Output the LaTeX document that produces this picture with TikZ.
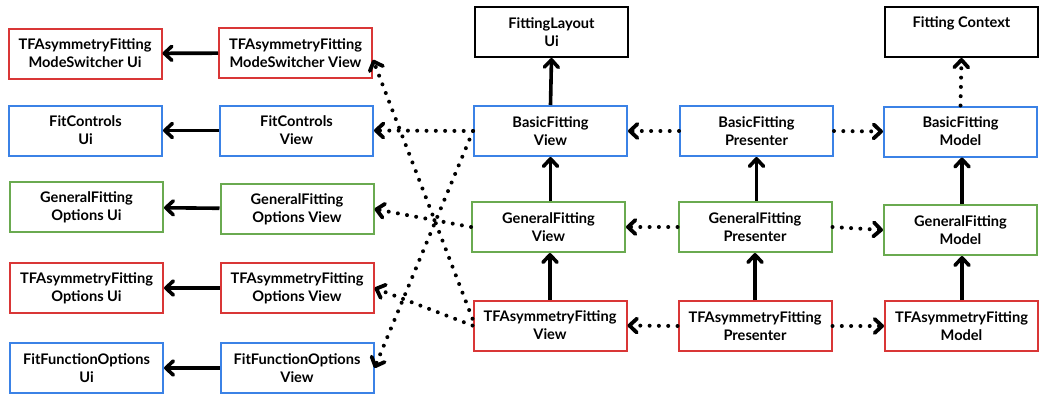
\documentclass[tikz,border=0pt]{standalone}
\usepackage{fontspec}
\setmainfont{Lato}
\usetikzlibrary{arrows.meta,calc}
\definecolor{cred}{HTML}{D93636}
\definecolor{cblue}{HTML}{3B82E6}
\definecolor{cgreen}{HTML}{6AAA50}
\tikzset{
  box/.style={draw, line width=2pt, minimum width=153pt, minimum height=50pt,
    inner sep=0pt, align=center, font=\bfseries\fontsize{14.6}{18}\selectfont, fill=white},
  redbox/.style={box, draw=cred},
  bluebox/.style={box, draw=cblue},
  greenbox/.style={box, draw=cgreen},
  blackbox/.style={box, draw=black},
  solidarrow/.style={line width=3.6pt, -{Straight Barb[length=7.5pt,width=14pt,round]}},
  dotarrow/.style={line width=4pt, line cap=round, dash pattern=on 0pt off 9.3pt,
    -{Straight Barb[length=7.5pt,width=14pt,round,line width=3.8pt]}},
}
\begin{document}
\begin{tikzpicture}[x=1pt,y=-1pt]
\useasboundingbox[fill=white] (0,0) rectangle (1049,402);
% column 1
\node[redbox]   (MSU)  at (85,53.5)  {TFAsymmetryFitting\\ModeSwitcher Ui};
\node[bluebox]  (FCU)  at (85.5,130.5) {FitControls\\Ui};
\node[greenbox] (GOU)  at (86.5,207) {GeneralFitting\\Options Ui};
\node[redbox]   (TOU)  at (86.5,288) {TFAsymmetryFitting\\Options Ui};
\node[bluebox]  (FFU)  at (86.5,368) {FitFunctionOptions\\Ui};
% column 2
\node[redbox]   (MSV)  at (295.5,53)  {TFAsymmetryFitting\\ModeSwitcher View};
\node[bluebox]  (FCV)  at (296.5,130.5) {FitControls\\View};
\node[greenbox] (GOV)  at (297,209) {GeneralFitting\\Options View};
\node[redbox]   (TOV)  at (297,288) {TFAsymmetryFitting\\Options View};
\node[bluebox]  (FFV)  at (297,368) {FitFunctionOptions\\View};
% column 3
\node[blackbox] (FLU)  at (551.5,32) {FittingLayout\\Ui};
\node[bluebox]  (BFV)  at (550.5,131) {BasicFitting\\View};
\node[greenbox] (GFV)  at (548.5,227) {GeneralFitting\\View};
\node[redbox]   (TFV)  at (550,325.5) {TFAsymmetryFitting\\View};
% column 4
\node[bluebox]  (BFP)  at (756.5,131) {BasicFitting\\Presenter};
\node[greenbox] (GFP)  at (755,227) {GeneralFitting\\Presenter};
\node[redbox]   (TFP)  at (755,326) {TFAsymmetryFitting\\Presenter};
% column 5
\node[blackbox] (FC)   at (961.5,32) {Fitting Context\\\phantom{Xg}};
\node[bluebox]  (BFM)  at (960.5,131.5) {BasicFitting\\Model};
\node[greenbox] (GFM)  at (960.5,230) {GeneralFitting\\Model};
\node[redbox]   (TFM)  at (961.5,326) {TFAsymmetryFitting\\Model};
% solid arrows view -> ui
\draw[solidarrow] (MSV) -- (MSU);
\draw[solidarrow] (FCV) -- (FCU);
\draw[solidarrow] (GOV) -- (GOU);
\draw[solidarrow] (TOV) -- (TOU);
\draw[solidarrow] (FFV) -- (FFU);
% vertical solid arrows
\draw[solidarrow] (BFV.north) -- (FLU.south);
\draw[solidarrow] (GFV.north -| BFV) -- (BFV.south);
\draw[solidarrow] (TFV.north) -- (TFV.north |- GFV.south);
\draw[solidarrow] (GFP.north -| BFP) -- (BFP.south);
\draw[solidarrow] (TFP.north) -- (GFP.south);
\draw[solidarrow] (GFM.north -| 962,0) -- (BFM.south -| 962,0);
\draw[solidarrow] (TFM.north -| 962,0) -- (GFM.south -| 962,0);
% dotted arrows presenter
\draw[dotarrow] (BFP.west) -- (BFV.east);
\draw[dotarrow] (GFP.west) -- (GFV.east);
\draw[dotarrow] (TFP.west) -- (TFV.east);
\draw[dotarrow] (BFP.east) -- (BFM.west);
\draw[dotarrow] (GFP.east) -- (GFM.west);
\draw[dotarrow] (TFP.east) -- (TFM.west);
\draw[dotarrow] (BFM.north) -- (FC.south);
% dotted cross links
\draw[dotarrow] (BFV.west) -- (FCV.east);
\draw[dotarrow] (BFV.west) -- (FFV.east);
\draw[dotarrow] (GFV.west) -- (GOV.east);
\draw[dotarrow] (TFV.west) -- (TOV.east);
\draw[dotarrow] (TFV.175) -- (MSV.-5);
\end{tikzpicture}
\end{document}
